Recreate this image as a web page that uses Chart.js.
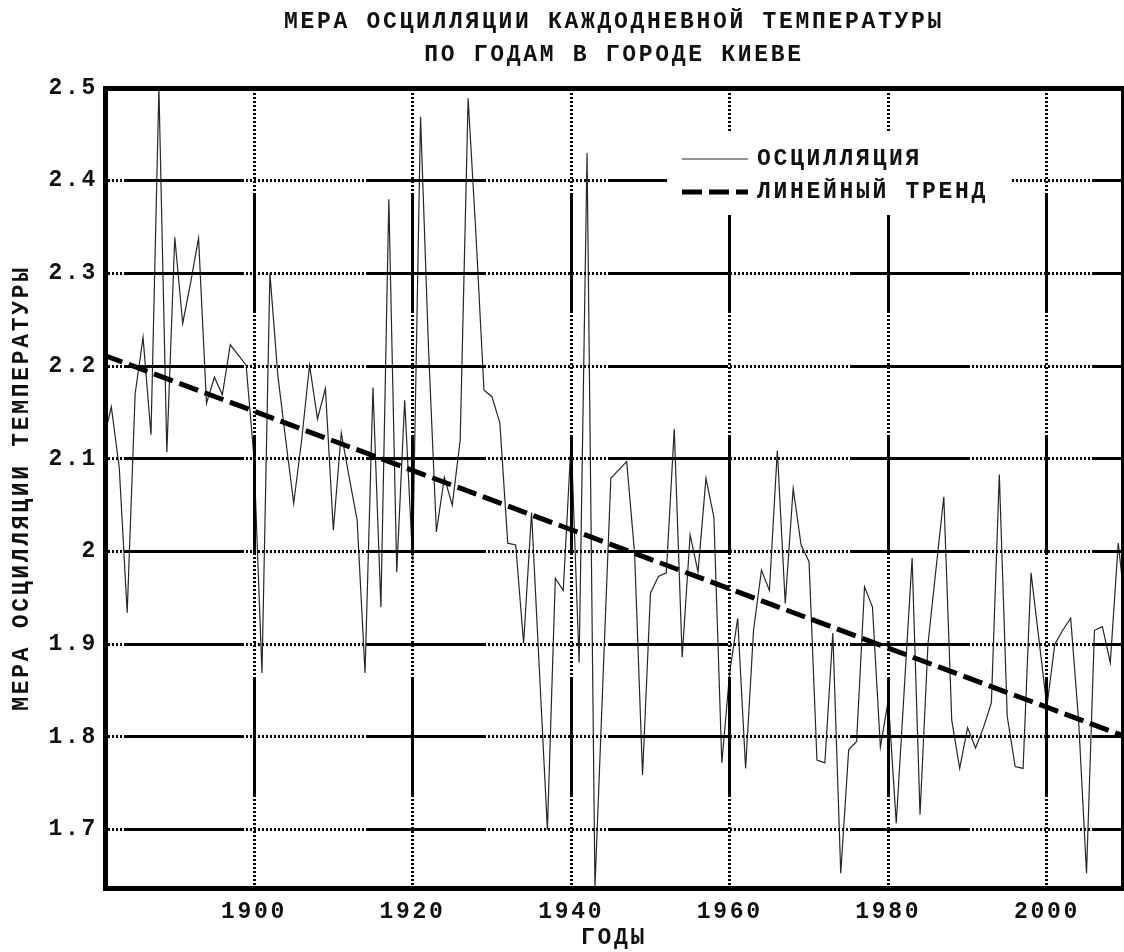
<!DOCTYPE html>
<html lang="ru">
<head>
<meta charset="utf-8">
<title>Мера осцилляции каждодневной температуры</title>
<script src="https://cdn.jsdelivr.net/npm/chart.js@4.4.1/dist/chart.umd.min.js"></script>
<style>
  html, body { margin: 0; padding: 0; background: #fff; }
  #wrap { width: 1124px; height: 952px; }
</style>
</head>
<body>
<div id="wrap"><canvas id="chart" width="1124" height="952"></canvas></div>
<script>
// годы наблюдений
const years = [
  1881, 1882, 1883, 1884, 1885, 1886, 1887, 1888, 1889, 1890,
  1891, 1892, 1893, 1894, 1895, 1896, 1897, 1898, 1899, 1900,
  1901, 1902, 1903, 1904, 1905, 1906, 1907, 1908, 1909, 1910,
  1911, 1912, 1913, 1914, 1915, 1916, 1917, 1918, 1919, 1920,
  1921, 1922, 1923, 1924, 1925, 1926, 1927, 1928, 1929, 1930,
  1931, 1932, 1933, 1934, 1935, 1936, 1937, 1938, 1939, 1940,
  1941, 1942, 1943, 1944, 1945, 1946, 1947, 1948, 1949, 1950,
  1951, 1952, 1953, 1954, 1955, 1956, 1957, 1958, 1959, 1960,
  1961, 1962, 1963, 1964, 1965, 1966, 1967, 1968, 1969, 1970,
  1971, 1972, 1973, 1974, 1975, 1976, 1977, 1978, 1979, 1980,
  1981, 1982, 1983, 1984, 1985, 1986, 1987, 1988, 1989, 1990,
  1991, 1992, 1993, 1994, 1995, 1996, 1997, 1998, 1999, 2000,
  2001, 2002, 2003, 2004, 2005, 2006, 2007, 2008, 2009, 2010
];

// мера осцилляции
const oscillation = [
  2.12, 2.156, 2.09, 1.934, 2.17, 2.231, 2.126, 2.50, 2.107, 2.339,
  2.246, 2.29, 2.338, 2.16, 2.188, 2.169, 2.223, 2.212, 2.201, 2.10,
  1.869, 2.30, 2.19, 2.12, 2.052, 2.12, 2.201, 2.143, 2.176, 2.023,
  2.128, 2.08, 2.034, 1.869, 2.177, 1.94, 2.38, 1.978, 2.163, 1.99,
  2.469, 2.22, 2.021, 2.08, 2.05, 2.12, 2.489, 2.34, 2.174, 2.167,
  2.139, 2.009, 2.007, 1.901, 2.042, 1.87, 1.70, 1.971, 1.958, 2.12,
  1.88, 2.43, 1.638, 1.86, 2.079, 2.088, 2.097, 1.998, 1.759, 1.955,
  1.973, 1.977, 2.132, 1.886, 2.018, 1.978, 2.079, 2.037, 1.772, 1.87,
  1.928, 1.766, 1.915, 1.98, 1.958, 2.109, 1.944, 2.068, 2.007, 1.989,
  1.775, 1.772, 1.912, 1.653, 1.786, 1.795, 1.962, 1.94, 1.789, 1.84,
  1.707, 1.85, 1.993, 1.716, 1.90, 1.98, 2.059, 1.818, 1.766, 1.81,
  1.788, 1.81, 1.837, 2.083, 1.822, 1.768, 1.766, 1.977, 1.905, 1.833,
  1.90, 1.915, 1.928, 1.818, 1.653, 1.915, 1.919, 1.88, 2.009, 1.93
];

// линейный тренд: начало и конец
const trendYears = [1881, 2010];
const trendValues = [2.212, 1.80];

// деления осей
const xTicks = [1900, 1920, 1940, 1960, 1980, 2000];
const xTickLabels = ['1900', '1920', '1940', '1960', '1980', '2000'];
const yTicks = [1.7, 1.8, 1.9, 2.0, 2.1, 2.2, 2.3, 2.4, 2.5];
const yTickLabels = ['1.7', '1.8', '1.9', '2', '2.1', '2.2', '2.3', '2.4', '2.5'];

const seriesLabels = ['ОСЦИЛЛЯЦИЯ', 'ЛИНЕЙНЫЙ ТРЕНД'];

const FONT = "'Liberation Mono', 'DejaVu Sans Mono', monospace";
const SPACING = '2.7px';
const textFont = { family: FONT, size: 23, weight: 'bold' };

// сетка: сплошной отрезок, затем пунктир из точек
const gridDash = [120, 2];
for (let i = 0; i < 30; i++) gridDash.push(2, 2);

// разрядка букв, как в оригинале
const letterSpacingPlugin = {
  id: 'letterSpacing',
  beforeUpdate(chart) { chart.ctx.letterSpacing = SPACING; },
  beforeDraw(chart) { chart.ctx.letterSpacing = SPACING; }
};

// легенда внутри области графика на белой подложке
const boxLegendPlugin = {
  id: 'boxLegend',
  afterDraw(chart) {
    const { ctx, chartArea: ca } = chart;
    const left = ca.left + 562;
    const top = ca.top + 45;
    ctx.save();
    ctx.fillStyle = '#fff';
    ctx.fillRect(left, top, 343, 82);
    ctx.font = 'bold 23px ' + FONT;
    ctx.letterSpacing = SPACING;
    ctx.textBaseline = 'middle';
    ctx.textAlign = 'left';
    chart.data.datasets.forEach((ds, i) => {
      const y = top + 26 + i * 33;
      ctx.beginPath();
      ctx.lineWidth = ds.borderWidth;
      ctx.strokeStyle = ds.borderColor;
      ctx.setLineDash(ds.borderDash || []);
      ctx.moveTo(left + 15, y);
      ctx.lineTo(left + 81, y);
      ctx.stroke();
      ctx.setLineDash([]);
      ctx.fillStyle = '#111';
      ctx.fillText(ds.label, left + 90, y);
    });
    ctx.restore();
  }
};

const ctx = document.getElementById('chart').getContext('2d');

new Chart(ctx, {
  type: 'line',
  data: {
    datasets: [
      {
        label: seriesLabels[0],
        data: years.map((yr, i) => ({ x: yr, y: oscillation[i] })),
        borderColor: 'rgba(0, 0, 0, 0.85)',
        borderWidth: 1.2,
        pointRadius: 0,
        tension: 0
      },
      {
        label: seriesLabels[1],
        data: trendYears.map((yr, i) => ({ x: yr, y: trendValues[i] })),
        borderColor: '#000',
        borderWidth: 5,
        borderDash: [20, 7],
        pointRadius: 0,
        tension: 0
      }
    ]
  },
  options: {
    responsive: false,
    devicePixelRatio: 1,
    animation: false,
    layout: { padding: { left: 0, right: 1, top: 0, bottom: 0 } },
    plugins: {
      legend: { display: false },
      tooltip: { enabled: false },
      title: {
        display: true,
        fullSize: false,
        text: ['МЕРА ОСЦИЛЛЯЦИИ КАЖДОДНЕВНОЙ ТЕМПЕРАТУРЫ', 'ПО ГОДАМ В ГОРОДЕ КИЕВЕ'],
        color: '#111',
        font: { family: FONT, size: 23, weight: 'bold', lineHeight: '33px' },
        padding: { top: 6, bottom: 16 }
      }
    },
    scales: {
      x: {
        type: 'linear',
        position: 'bottom',
        min: 1881.2,
        max: 2009.6,
        afterBuildTicks: s => { s.ticks = xTicks.map(v => ({ value: v })); },
        afterFit: s => { s.height = 64; },
        grid: { color: '#000', lineWidth: 3, drawTicks: false },
        border: { display: true, color: '#000', width: 5, dash: gridDash, dashOffset: 137 },
        ticks: {
          color: '#111',
          font: textFont,
          padding: 10,
          maxRotation: 0,
          autoSkip: false,
          callback: (v, i) => xTickLabels[i]
        },
        title: { display: true, text: 'ГОДЫ', color: '#111', font: textFont, padding: { top: 0, bottom: 0 } }
      },
      y: {
        type: 'linear',
        position: 'left',
        min: 1.637,
        max: 2.5,
        afterBuildTicks: s => { s.ticks = yTicks.map(v => ({ value: v })); },
        afterFit: s => { s.width = 105; },
        grid: { color: '#000', lineWidth: 3, drawTicks: false },
        border: { display: true, color: '#000', width: 5, dash: gridDash, dashOffset: 226 },
        ticks: {
          color: '#111',
          font: textFont,
          padding: 7,
          callback: (v, i) => yTickLabels[i]
        },
        title: {
          display: true,
          text: 'МЕРА ОСЦИЛЛЯЦИИ ТЕМПЕРАТУРЫ',
          color: '#111',
          font: textFont,
          padding: { top: 8, bottom: 0 }
        }
      },
      // верхняя и правая рамки
      xTop: {
        type: 'linear',
        position: 'top',
        afterFit: s => { s.height = 0; },
        grid: { display: false },
        ticks: { display: false },
        border: { display: true, color: '#000', width: 5 }
      },
      yRight: {
        type: 'linear',
        position: 'right',
        afterFit: s => { s.width = 0; },
        grid: { display: false },
        ticks: { display: false },
        border: { display: true, color: '#000', width: 5 }
      }
    }
  },
  plugins: [letterSpacingPlugin, boxLegendPlugin]
});
</script>
</body>
</html>
